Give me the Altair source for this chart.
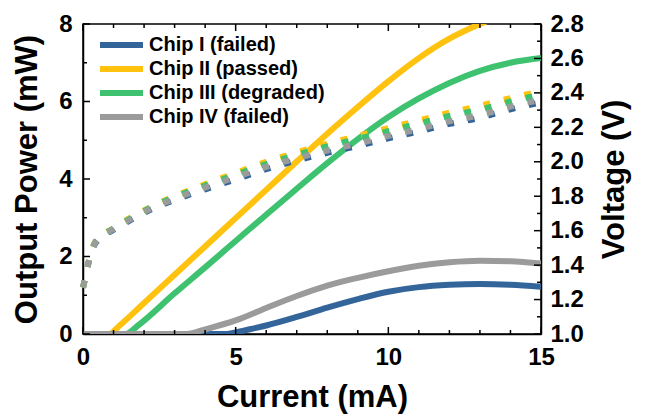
import altair as alt
import pandas as pd

chips = ["Chip I (failed)", "Chip II (passed)", "Chip III (degraded)", "Chip IV (failed)"]
colors = ["#33659B", "#FFC20E", "#3EC270", "#9B9B9B"]

# Output power (mW) vs current (mA)
cur1 = [0, 4.7, 5, 5.5, 6, 7, 8, 9, 10, 11, 12, 13, 14, 15]
pow1 = [0, 0, 0.04, 0.13, 0.22, 0.44, 0.68, 0.9, 1.09, 1.21, 1.27, 1.29, 1.27, 1.22]
cur2 = [0, 0.85, 1.2, 2, 3, 4, 5, 6, 7, 8, 9, 10, 11, 12, 13, 14, 15]
pow2 = [0, 0, 0.22, 0.8, 1.53, 2.26, 2.99, 3.72, 4.45, 5.17, 5.86, 6.52, 7.12, 7.62, 8.0, 8.3, 8.55]
cur3 = [0, 1.4, 1.8, 3, 4, 5, 6, 7, 8, 9, 10, 11, 12, 13, 14, 15]
pow3 = [0, 0, 0.22, 1.05, 1.72, 2.4, 3.08, 3.75, 4.41, 5.03, 5.6, 6.08, 6.48, 6.79, 7.0, 7.12]
cur4 = [0, 3.4, 4, 5, 6, 7, 8, 9, 10, 11, 12, 13, 14, 15]
pow4 = [0, 0, 0.12, 0.35, 0.67, 0.98, 1.25, 1.45, 1.62, 1.76, 1.85, 1.89, 1.88, 1.82]

# Voltage (V) vs current (mA)
vcur = [0, 0.05, 0.2, 0.4, 1, 1.6, 2.25, 3, 4, 5, 6, 7, 8, 9, 10, 11, 12, 13, 14, 15]
volt1 = [1.27, 1.305, 1.425, 1.525, 1.605, 1.665, 1.725, 1.778, 1.84, 1.898, 1.957, 2.007, 2.052, 2.092, 2.136, 2.176, 2.22, 2.255, 2.305, 2.345]
volt2 = [1.27, 1.31, 1.43, 1.535, 1.615, 1.68, 1.74, 1.80, 1.87, 1.935, 2.0, 2.055, 2.105, 2.15, 2.195, 2.24, 2.285, 2.325, 2.37, 2.41]
volt3 = [1.27, 1.31, 1.43, 1.533, 1.613, 1.675, 1.737, 1.795, 1.862, 1.925, 1.987, 2.04, 2.09, 2.133, 2.178, 2.222, 2.266, 2.303, 2.35, 2.39]
volt4 = [1.27, 1.31, 1.43, 1.53, 1.61, 1.67, 1.73, 1.785, 1.85, 1.91, 1.97, 2.02, 2.065, 2.105, 2.15, 2.19, 2.235, 2.27, 2.32, 2.36]

# Tick values
x_major = [0, 5, 10, 15]
x_minor = [1, 2, 3, 4, 6, 7, 8, 9, 11, 12, 13, 14]
p_major = [0, 2, 4, 6, 8]
p_minor = [1, 3, 5, 7]
v_major = [1.0, 1.2, 1.4, 1.6, 1.8, 2.0, 2.2, 2.4, 2.6, 2.8]
v_minor = [1.1, 1.3, 1.5, 1.7, 1.9, 2.1, 2.3, 2.5, 2.7]

W, H = 458, 310
MAJOR, MINOR = 7, 4

prow = []
for chip, xs, ys in zip(chips, [cur1, cur2, cur3, cur4], [pow1, pow2, pow3, pow4]):
    for x, y in zip(xs, ys):
        prow.append({"chip": chip, "current": x, "power": y})
power_df = pd.DataFrame(prow)

vrow = []
for chip, ys in zip(chips, [volt1, volt2, volt3, volt4]):
    for x, y in zip(vcur, ys):
        vrow.append({"chip": chip, "current": x, "voltage": y})
volt_df = pd.DataFrame(vrow)

FONT = "Liberation Sans"
xscale = alt.Scale(domain=[0, 15], nice=False, zero=False)
pscale = alt.Scale(domain=[0, 8], nice=False)
vscale = alt.Scale(domain=[1.0, 2.8], nice=False, zero=False)
cscale = alt.Scale(domain=chips, range=colors)

x_axis = alt.Axis(orient="bottom", values=x_major, ticks=False, tickSize=0,
                  labelPadding=11, title="Current (mA)", titlePadding=13)
p_axis = alt.Axis(orient="left", values=p_major, ticks=False, tickSize=0,
                  labelPadding=11, title="Output Power (mW)", titlePadding=15)
v_axis = alt.Axis(orient="right", values=v_major, ticks=False, tickSize=0, format=".1f",
                  labelPadding=9, title="Voltage (V)", titleAngle=270,
                  titleBaseline="top", titlePadding=16)

power = alt.Chart(power_df).mark_line(strokeWidth=6, clip=True, interpolate="monotone").encode(
    x=alt.X("current:Q", scale=xscale, axis=x_axis),
    y=alt.Y("power:Q", scale=pscale, axis=p_axis),
    color=alt.Color("chip:N", scale=cscale,
                    legend=alt.Legend(title=None, orient="none", legendX=14, legendY=9,
                                      symbolType="stroke", symbolStrokeWidth=6, symbolSize=1849,
                                      clipHeight=24, rowPadding=0, padding=0, labelOffset=3,
                                      labelFont=FONT, labelFontWeight="bold", labelFontSize=20,
                                      labelColor="black", labelLimit=400)),
)

volt = alt.Chart(volt_df).mark_line(strokeWidth=6, strokeDash=[7, 14], interpolate="monotone").encode(
    x=alt.X("current:Q", scale=xscale, axis=None),
    y=alt.Y("voltage:Q", scale=vscale, axis=v_axis),
    color=alt.Color("chip:N", scale=cscale, legend=None),
)


def xticks(vals, y0, y1):
    return alt.Chart(pd.DataFrame({"current": vals})).mark_rule(
        color="black", strokeWidth=1.5).encode(
        x=alt.X("current:Q", scale=xscale, axis=None),
        y=alt.value(y0), y2=alt.value(y1))


def yticks(vals, field, scale, x0, x1):
    return alt.Chart(pd.DataFrame({field: vals})).mark_rule(
        color="black", strokeWidth=1.5).encode(
        y=alt.Y(f"{field}:Q", scale=scale, axis=None),
        x=alt.value(x0), x2=alt.value(x1))


chart = alt.layer(
    power,
    volt,
    xticks(x_major, H, H - MAJOR), xticks(x_minor, H, H - MINOR),
    xticks(x_major, 0, MAJOR), xticks(x_minor, 0, MINOR),
    yticks(p_major, "power", pscale, 0, MAJOR),
    yticks(p_minor, "power", pscale, 0, MINOR),
    yticks(v_major, "voltage", vscale, W, W - MAJOR),
    yticks(v_minor, "voltage", vscale, W, W - MINOR),
).resolve_scale(y="independent").resolve_axis(x="independent", y="independent").properties(
    width=W, height=H,
    autosize=alt.AutoSizeParams(type="none"),
    padding={"left": 75, "top": 16, "right": 98, "bottom": 84},
).configure_view(stroke="black", strokeWidth=1.5).configure_axis(
    grid=False,
    labelFont=FONT, labelFontWeight="bold", labelFontSize=24, labelColor="black",
    labelFlush=False, labelOverlap=False,
    titleFont=FONT, titleFontWeight="bold", titleFontSize=31, titleColor="black",
    domainColor="black", domainWidth=1.5,
)

chart.save("out.html", embed_options={"renderer": "svg", "actions": False})
